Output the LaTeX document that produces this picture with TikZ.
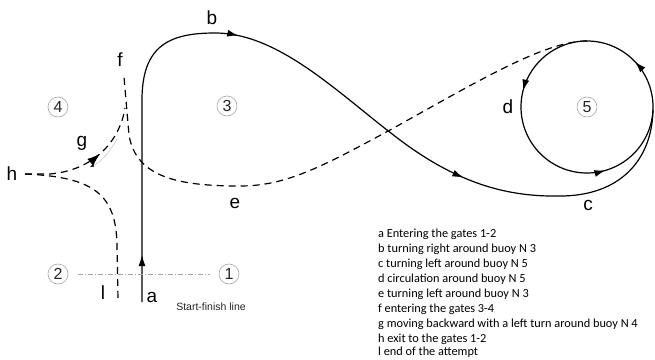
\documentclass[tikz,border=0pt]{standalone}
\usepackage{fontspec}
\setmainfont{Liberation Sans}
\newfontfamily\legendfont{Carlito}
\usetikzlibrary{arrows.meta,decorations.markings}
\begin{document}
\begin{tikzpicture}[x=1pt,y=-1pt,
  track/.style={line width=1.2pt, black},
  dashtrack/.style={track, dash pattern=on 7pt off 5pt},
  lbl/.style={inner sep=0pt, font=\fontsize{19}{19}\selectfont},
  buoy/.style={circle, draw=gray!70, line width=0.6pt, inner sep=0pt, minimum size=20pt, font=\fontsize{16}{16}\selectfont, text=black!85},
  legend/.style={anchor=base west, inner sep=0pt, font=\legendfont\fontsize{12.3}{13}\selectfont},
  tipmark/.style={postaction={decorate}, decoration={markings, #1}}
]
\useasboundingbox (0,0) rectangle (655,359);
\fill[white] (0,0) rectangle (655,359);

% key points
\coordinate (A) at (142,302);
\coordinate (A1) at (142,100);
\coordinate (B) at (215,33);
\coordinate (X) at (400,140);
\coordinate (C) at (560,196);
\coordinate (R) at (653,110);
\coordinate (T) at (587,41);
\coordinate (E1) at (390,130);
\coordinate (E2) at (240,186);
\coordinate (F) at (124,77);
\coordinate (Fs) at (125,108);
\coordinate (H) at (25,174);
\coordinate (H1) at (50,174);
\coordinate (L) at (118,300);

% solid course a-b-c
\draw[track, tipmark={mark=at position 47pt with {\arrow{Latex[length=11pt,width=7pt]}},
                      mark=at position 341pt with {\arrow{Latex[length=11pt,width=7pt]}},
                      mark=at position 609pt with {\arrow{Latex[length=11pt,width=7pt]}}}]
  (A) -- (A1) .. controls (142,45) and (170,33) .. (B)
      .. controls (280,33) and (340,95) .. (X)
      .. controls (460,185) and (510,197) .. (C)
      .. controls (620,196) and (652,160) .. (R);

% circle d around buoy 5
\draw[track, tipmark={mark=at position 0.21 with {\arrow{Latex[length=11pt,width=7pt]}},
                      mark=at position 0.545 with {\arrow{Latex[length=11pt,width=7pt]}},
                      mark=at position 0.87 with {\arrow{Latex[length=11pt,width=7pt]}}}]
  (T) arc[start angle=90, end angle=450, radius=66pt];

% dashed e-f
\draw[dashtrack] (T) .. controls (545,41) and (480,80) .. (E1)
  .. controls (320,168) and (285,186) .. (E2)
  .. controls (180,186) and (136,178) .. (129,135) -- (F);

% dashed g (towards f) and h
\draw[dashtrack, tipmark={mark=at position 80pt with {\arrow{Latex[length=13pt,width=9pt]}}}]
  (H) -- (H1) .. controls (95,170) and (120,140) .. (Fs);

% dashed h-l
\draw[dashtrack] (H) .. controls (95,177) and (116,195) .. (117,245) -- (L);

% thin grey backward arrow
\draw[gray!55, line width=0.4pt, -{Latex[length=4pt,width=3pt,color=black]}]
  (117,139) .. controls (110,152) and (101,162) .. (90,167);

% buoys
\node[buoy] (b1) at (229,274) {1};
\node[buoy] (b2) at (58,274) {2};
\node[buoy] (b3) at (227,106) {3};
\node[buoy] (b4) at (58,107) {4};
\node[buoy] (b5) at (587,107) {5};

% start-finish line
\draw[gray!70, line width=0.6pt, dash pattern=on 5pt off 2pt on 1pt off 2pt, shorten <=10pt, shorten >=9pt] (b2) -- (b1);
\node[inner sep=0pt, font=\fontsize{10.5}{11}\selectfont, text=black!85] (sf) at (211,307) {Start-finish line};

% letters
\node[lbl] (la) at (152,297) {a};
\node[lbl] (lb) at (212,18) {b};
\node[lbl] (lc) at (588,205) {c};
\node[lbl] (ld) at (508,107) {d};
\node[lbl] (le) at (235,203) {e};
\node[lbl] (lf) at (120,60) {f};
\node[lbl] (lg) at (82,143) {g};
\node[lbl] (lh) at (12,174) {h};
\node[lbl] (ll) at (103,293) {l};

% legend
\node[legend] (k1) at (378,237) {a Entering the gates 1-2};
\node[legend] (k2) at (378,252) {b turning right around buoy N 3};
\node[legend] (k3) at (378,267) {c turning left around buoy N 5};
\node[legend] (k4) at (378,282) {d circulation around buoy N 5};
\node[legend] (k5) at (378,297) {e turning left around buoy N 3};
\node[legend] (k6) at (378,312) {f entering the gates 3-4};
\node[legend] (k7) at (378,327) {g moving backward with a left turn around buoy N 4};
\node[legend] (k8) at (378,342) {h exit to the gates 1-2};
\node[legend] (k9) at (378,355.5) {l end of the attempt};
\end{tikzpicture}
\end{document}
